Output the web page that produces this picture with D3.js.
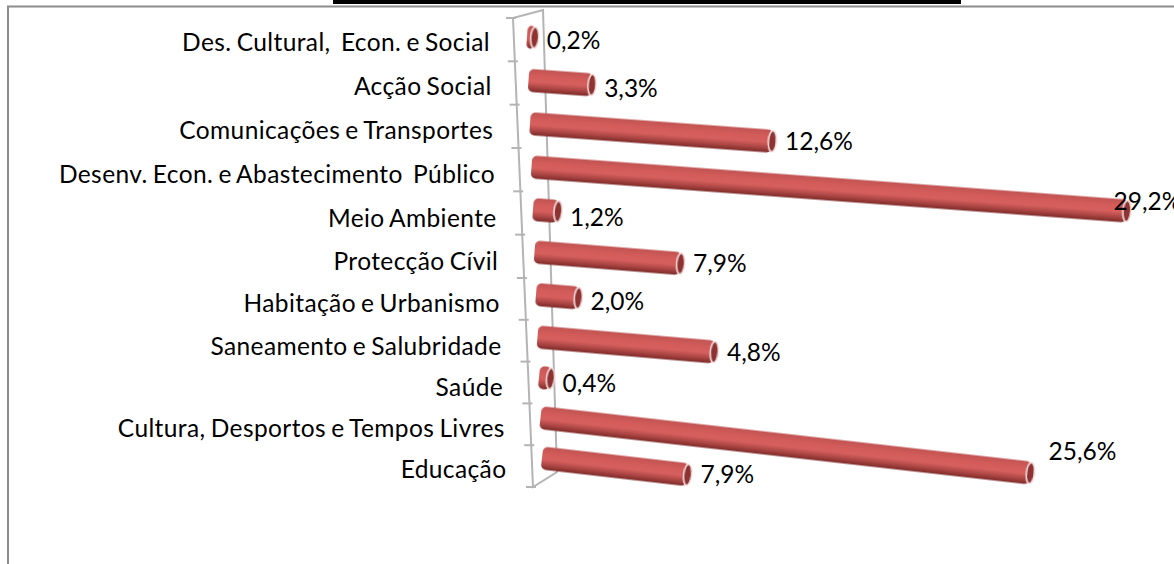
<!DOCTYPE html>
<html>
<head>
<meta charset="utf-8">
<script src="https://cdn.jsdelivr.net/npm/d3@7"></script>
<style>
  html, body { margin: 0; padding: 0; background: #fff; overflow: hidden; }
  svg { display: block; }
  text { font-family: Lato, "Open Sans", sans-serif; fill: #000; }
</style>
</head>
<body>
<div id="chart"></div>
<script>
// top row first, as in the picture
const categories = ["Des. Cultural,  Econ. e Social", "Acção Social", "Comunicações e Transportes",
  "Desenv. Econ. e Abastecimento  Público", "Meio Ambiente", "Protecção Cívil", "Habitação e Urbanismo",
  "Saneamento e Salubridade", "Saúde", "Cultura, Desportos e Tempos Livres", "Educação"];
const values = [0.2, 3.3, 12.6, 29.2, 1.2, 7.9, 2.0, 4.8, 0.4, 25.6, 7.9];
// length of each tube as drawn (the 4,8% tube really is longer than the 7,9% ones)
const drawn = [0.4, 3.3, 12.6, 29.2, 1.3, 7.6, 2.2, 9.2, 0.6, 25.6, 7.6];

const width = 1174, height = 564;
const rows = d3.range(categories.length);

const svg = d3.select("#chart").append("svg").attr("width", width).attr("height", height);

const defs = svg.append("defs");
const grad = defs.append("linearGradient").attr("id", "tube").attr("x1", 0).attr("x2", 0).attr("y1", 0).attr("y2", 1);
grad.selectAll("stop")
  .data([[0, "#c05351"], [0.3, "#d35c5a"], [0.55, "#d65f5d"], [0.8, "#a84442"], [1, "#7d2a28"]])
  .enter().append("stop")
  .attr("offset", d => d[0])
  .attr("stop-color", d => d[1]);
defs.append("filter").attr("id", "soft").append("feGaussianBlur").attr("stdDeviation", 0.6);

// the 3D look: bars start further right and lean more as the row goes down
const startX = d3.scaleLinear().domain([0, 10]).range([527, 542]);
const startY = d3.scaleLinear().domain([0, 3, 7, 10]).range([37, 167, 337, 458]);
const lean = d3.scaleLinear().domain([0, 3, 7, 9, 10]).range([0.07, 0.074, 0.085, 0.113, 0.115]);
const length = d3.scaleLinear().domain([0, 12.6, 25.6, 29.2]).range([0, 243, 493, 597]);
// short tubes carry their label a bit lower than long ones
const labelDrop = d3.scaleLinear().domain([0, 150]).range([14, 8.5]).clamp(true);

// frame and black strip on top
svg.append("path").attr("d", d3.line()([[8, height], [8, 6.5], [width, 6.5]]))
  .attr("fill", "none").attr("stroke", "#8c8c8c").attr("stroke-width", 2);
svg.append("rect").attr("x", 333).attr("y", 0).attr("width", 628).attr("height", 4).attr("fill", "#000");

// axis wall
const wall = svg.append("g").attr("fill", "none").attr("stroke", "#b4b4b4").attr("stroke-width", 2);
wall.append("path").attr("d", d3.line()([[513, 18], [543, 10], [557, 472], [533, 487], [513, 18]]));
const tickY = d3.scaleLinear().domain([0, 6, 11]).range([18, 278, 487]);
const tickX = d3.scaleLinear().domain([0, 11]).range([513, 533]);
wall.selectAll(".tick").data(d3.range(12)).enter().append("line")
  .attr("class", "tick")
  .attr("x1", d => tickX(d) - 7).attr("x2", d => tickX(d) + 3)
  .attr("y1", d => tickY(d)).attr("y2", d => tickY(d));

// tubes
const tubeH = 23;
const bars = svg.selectAll(".bar").data(rows).enter().append("g")
  .attr("class", "bar")
  .attr("filter", "url(#soft)")
  .attr("transform", i => `translate(${startX(i)},${startY(i)}) rotate(${Math.atan(lean(i)) * 180 / Math.PI})`);
bars.append("rect")
  .attr("x", 0).attr("y", -tubeH / 2)
  .attr("width", i => length(drawn[i]))
  .attr("height", tubeH)
  .attr("rx", 5)
  .attr("fill", "url(#tube)");
bars.append("ellipse")
  .attr("cx", i => length(drawn[i]))
  .attr("cy", 0)
  .attr("rx", 4).attr("ry", tubeH / 2 - 1)
  .attr("fill", "#8e3230")
  .attr("stroke", "#f3dcdc").attr("stroke-width", 1.5);

// category labels, right aligned on the slanted axis
const labelRight = d3.scaleLinear().domain([0, 10]).range([490, 506.5]);
const labelY = d3.scaleLinear().domain([0, 4, 7, 10]).range([51, 227, 355, 478]);
svg.selectAll(".cat").data(rows).enter().append("text")
  .attr("class", "cat")
  .attr("x", i => labelRight(i))
  .attr("y", i => labelY(i))
  .attr("text-anchor", "end")
  .attr("font-size", 24.5)
  .style("white-space", "pre")
  .style("letter-spacing", "0.4px")
  .style("word-spacing", "-1.5px")
  .text(i => categories[i]);

// value labels; some sit off their usual spot in the original
const nudge = { 0: [0, -2], 3: [-27, -10], 4: [0, 1], 9: [3, -22] };
svg.selectAll(".val").data(rows).enter().append("text")
  .attr("class", "val")
  .attr("x", i => startX(i) + length(drawn[i]) + 12 + (nudge[i] ? nudge[i][0] : 0))
  .attr("y", i => startY(i) + lean(i) * length(drawn[i]) + labelDrop(length(drawn[i])) + (nudge[i] ? nudge[i][1] : 0))
  .attr("font-size", 24.5)
  .text(i => values[i].toFixed(1).replace(".", ",") + "%");
</script>
</body>
</html>
